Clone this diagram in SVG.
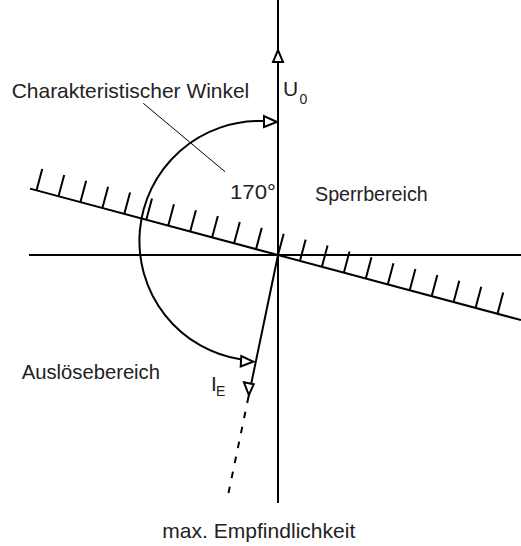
<svg xmlns="http://www.w3.org/2000/svg" width="521" height="546" viewBox="0 0 521 546">
<style>
.ln{fill:none;stroke:#000;stroke-width:2}
.thin{fill:none;stroke:#000;stroke-width:1}
.ah{fill:#fff;stroke:#000;stroke-width:2;stroke-linejoin:miter}
.t{font-family:"Liberation Sans",Arial,sans-serif;font-size:21px;fill:#222}
.sub{font-family:"Liberation Sans",Arial,sans-serif;font-size:14px;fill:#222}
</style>
<rect width="521" height="546" fill="#fff"/>
<g id="connectors">
<line class="ln" x1="278" y1="0" x2="278" y2="503"/>
<line class="ln" x1="29" y1="255" x2="521" y2="255"/>
<line class="ln" x1="30" y1="188.6" x2="521" y2="320.1"/>
<path class="ln" d="M36.55,190.3l5.7,-21.25M58.5,196.18l5.7,-21.25M80.45,202.07l5.7,-21.25M102.4,207.95l5.7,-21.25M124.35,213.83l5.7,-21.25M146.3,219.71l5.7,-21.25M168.25,225.59l5.7,-21.25M190.2,231.47l5.7,-21.25M212.15,237.36l5.7,-21.25M234.1,243.24l5.7,-21.25M256.05,249.12l5.7,-21.25M278,255l5.7,-21.25M299.95,260.88l5.7,-21.25M321.9,266.76l5.7,-21.25M343.85,272.64l5.7,-21.25M365.8,278.53l5.7,-21.25M387.75,284.41l5.7,-21.25M409.7,290.29l5.7,-21.25M431.65,296.17l5.7,-21.25M453.6,302.05l5.7,-21.25M475.55,307.93l5.7,-21.25M497.5,313.82l5.7,-21.25"/>
<path class="ln" d="M263,121 A120,120 0 0 0 241.5,359.6"/>
<line class="ln" x1="278" y1="255" x2="247.2" y2="403"/>
<line class="ln" x1="245.4" y1="411.7" x2="228.5" y2="493" stroke-dasharray="6.6 8.7"/>
<line class="thin" x1="143.3" y1="103.3" x2="225" y2="171.7"/>
<polygon class="ah" points="273,62 283,62 278,50"/>
<polygon class="ah" points="264,116 264,127 277,122"/>
<polygon class="ah" points="241.3,356 240.7,366.5 253.3,361.7"/>
<polygon class="ah" points="243.9,382.3 253.7,384.3 248.9,395"/>
</g>
<g id="label-winkel"><text class="t" x="11.7" y="98" textLength="237.6" lengthAdjust="spacingAndGlyphs">Charakteristischer Winkel</text></g>
<g id="label-u0"><text class="t" x="283" y="96">U</text><text class="sub" x="299.5" y="104">0</text></g>
<g id="label-170"><text class="t" x="230" y="199" textLength="46" lengthAdjust="spacingAndGlyphs">170°</text></g>
<g id="label-sperr"><text class="t" x="315" y="201" textLength="112.7" lengthAdjust="spacingAndGlyphs">Sperrbereich</text></g>
<g id="label-ausl"><text class="t" x="21.7" y="379" textLength="138.3" lengthAdjust="spacingAndGlyphs">Auslösebereich</text></g>
<g id="label-ie"><text class="t" x="211" y="391">I</text><text class="sub" x="216" y="396">E</text></g>
<g id="label-max"><text class="t" x="162.3" y="538" textLength="193" lengthAdjust="spacingAndGlyphs">max. Empfindlichkeit</text></g>
</svg>
